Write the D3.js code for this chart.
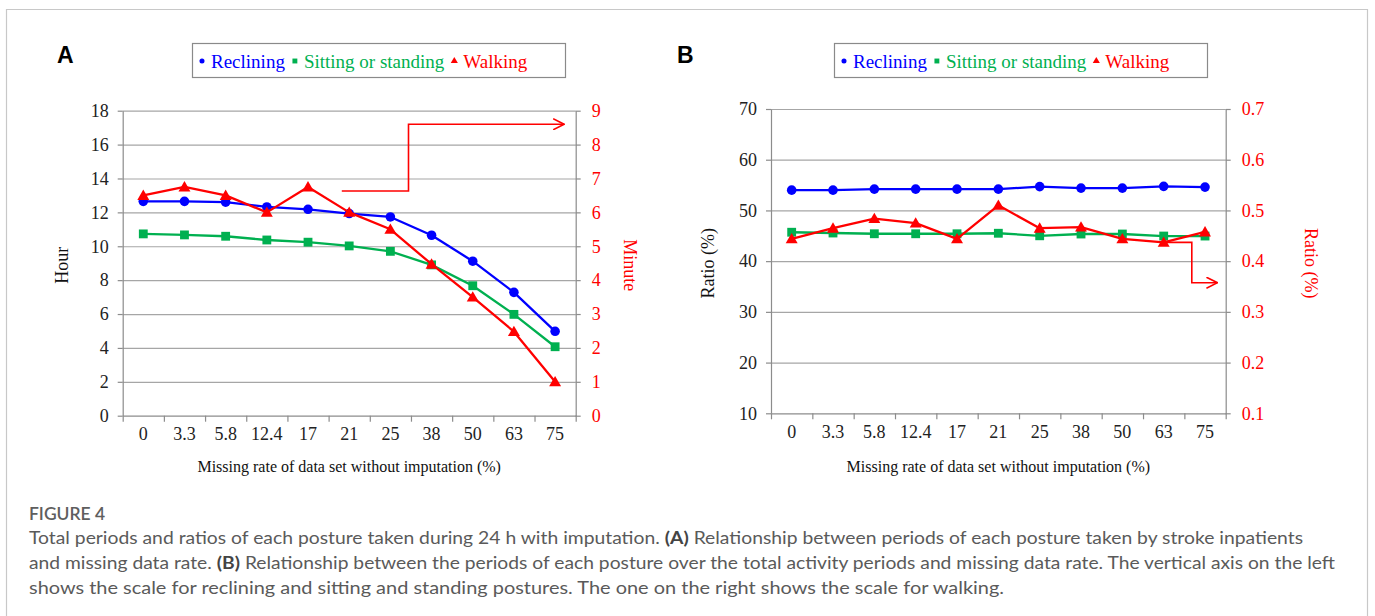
<!DOCTYPE html>
<html>
<head>
<meta charset="utf-8">
<script src="https://cdn.jsdelivr.net/npm/d3@7"></script>
<style>
  html, body { margin: 0; padding: 0; background: #fff; }
  svg { display: block; }
</style>
</head>
<body>
<svg id="chart" width="1375" height="616"></svg>
<script>
// ---------------- DATA ----------------
const categories = ["0", "3.3", "5.8", "12.4", "17", "21", "25", "38", "50", "63", "75"];
const seriesNames = ["Reclining", "Sitting or standing", "Walking"];

// Panel A: hours (reclining, sitting/standing) and minutes (walking)
const hoursReclining = [12.65, 12.65, 12.6, 12.32, 12.18, 11.93, 11.73, 10.65, 9.12, 7.28, 4.98];
const hoursSitting   = [10.73, 10.67, 10.59, 10.37, 10.24, 10.02, 9.7, 8.9, 7.67, 5.98, 4.07];
const minutesWalking = [6.5, 6.75, 6.5, 6.0, 6.75, 6.0, 5.5, 4.47, 3.5, 2.48, 1.0];
const hourTicks   = [0, 2, 4, 6, 8, 10, 12, 14, 16, 18];
const minuteTicks = [0, 1, 2, 3, 4, 5, 6, 7, 8, 9];

// Panel B: ratio (%) for reclining, sitting/standing; ratio for walking
const ratioReclining = [54.0, 54.0, 54.2, 54.2, 54.2, 54.2, 54.7, 54.4, 54.4, 54.75, 54.6];
const ratioSitting   = [45.7, 45.55, 45.4, 45.4, 45.4, 45.5, 45.0, 45.35, 45.35, 44.95, 44.95];
const ratioWalking   = [0.444, 0.465, 0.484, 0.475, 0.444, 0.51, 0.465, 0.467, 0.444, 0.437, 0.4575];
const ratioTicks      = [10, 20, 30, 40, 50, 60, 70];
const ratioRightTicks = [0.1, 0.2, 0.3, 0.4, 0.5, 0.6, 0.7];

// annotation arrows (category index, right-axis value)
const arrowA = [[4.82, 6.63], [6.44, 6.63], [6.44, 8.6], [10.22, 8.6]];
const arrowB = [[9.0, 0.437], [9.68, 0.437], [9.68, 0.3575], [10.3, 0.3575]];

const xTitle = "Missing rate of data set without imputation (%)";
const captionTitle = "FIGURE 4";
const captionLines = [
  [["Total periods and ratios of each posture taken during 24 h with imputation. ", false], ["(A)", true], [" Relationship between periods of each posture taken by stroke inpatients", false]],
  [["and missing data rate. ", false], ["(B)", true], [" Relationship between the periods of each posture over the total activity periods and missing data rate. The vertical axis on the left", false]],
  [["shows the scale for reclining and sitting and standing postures. The one on the right shows the scale for walking.", false]]
];

// ---------------- STYLE ----------------
const COL = { blue: "#0000ff", green: "#00b050", red: "#ff0000" };
const SERIF = "'Liberation Serif', 'Times New Roman', serif";
const gridColor = "#a6a6a6";
const axisColor = "#8c8c8c";

const svg = d3.select("#chart");

// outer frame (left, top, right)
svg.append("path")
  .attr("d", "M6.5,620 L6.5,9.5 L1367.5,9.5 L1367.5,620")
  .attr("fill", "none").attr("stroke", "#c8c8c8").attr("stroke-width", 1.2);

svg.append("defs").append("marker")
  .attr("id", "arrowhead").attr("viewBox", "0 -6 12 12")
  .attr("refX", 11).attr("refY", 0)
  .attr("markerWidth", 12).attr("markerHeight", 12)
  .attr("markerUnits", "userSpaceOnUse").attr("orient", "auto")
  .append("path").attr("d", "M0,-5.5 L11,0 L0,5.5")
  .attr("fill", "none").attr("stroke", COL.red).attr("stroke-width", 1.6);

function drawPanel(cfg) {
  const g = svg.append("g");
  const x = d3.scaleBand().domain(categories).range([cfg.x0, cfg.x1]);
  const xi = d3.scaleLinear().domain([0, categories.length]).range([cfg.x0, cfg.x1]);
  const xc = i => xi(i + 0.5);
  const yL = d3.scaleLinear().domain(cfg.leftDomain).range([cfg.yBottom, cfg.yTop]);
  const yR = d3.scaleLinear().domain(cfg.rightDomain).range([cfg.yBottom, cfg.yTop]);

  // panel letter
  g.append("text").attr("x", cfg.letterX).attr("y", 63)
    .attr("font-family", "'Liberation Sans', Arial, sans-serif")
    .attr("font-weight", "bold").attr("font-size", 23).attr("fill", "#000")
    .text(cfg.letter);

  // gridlines
  g.append("g").attr("transform", `translate(${cfg.x0},0)`)
    .call(d3.axisLeft(yL).tickValues(cfg.leftTicks.slice(1)).tickSize(-(cfg.x1 - cfg.x0)).tickFormat(""))
    .call(s => s.select(".domain").remove())
    .call(s => s.selectAll("line").attr("stroke", gridColor).attr("stroke-width", 1.2));

  // left axis
  g.append("g").attr("transform", `translate(${cfg.x0},0)`)
    .call(d3.axisLeft(yL).tickValues(cfg.leftTicks).tickSize(5).tickPadding(9).tickSizeOuter(0))
    .call(s => s.select(".domain").attr("stroke", axisColor).attr("stroke-width", 1.2))
    .call(s => s.selectAll("line").attr("stroke", axisColor).attr("stroke-width", 1.2))
    .call(s => s.selectAll("text").attr("font-family", SERIF).attr("font-size", 18).attr("fill", "#222"));

  // right axis
  g.append("g").attr("transform", `translate(${cfg.x1},0)`)
    .call(d3.axisRight(yR).tickValues(cfg.rightTicks).tickSize(5).tickPadding(11).tickSizeOuter(0)
      .tickFormat(cfg.rightFormat))
    .call(s => s.select(".domain").attr("stroke", axisColor).attr("stroke-width", 1.2))
    .call(s => s.selectAll("line").attr("stroke", axisColor).attr("stroke-width", 1.2))
    .call(s => s.selectAll("text").attr("font-family", SERIF).attr("font-size", 18).attr("fill", COL.red));

  // bottom axis: boundary ticks
  g.append("g").attr("transform", `translate(0,${cfg.yBottom})`)
    .call(d3.axisBottom(xi).tickValues(d3.range(categories.length + 1)).tickSize(6).tickFormat("").tickSizeOuter(0))
    .call(s => s.select(".domain").attr("stroke", axisColor).attr("stroke-width", 1.2))
    .call(s => s.selectAll("line").attr("stroke", axisColor).attr("stroke-width", 1.2));
  // bottom axis labels
  g.append("g").attr("transform", `translate(0,${cfg.yBottom})`)
    .call(d3.axisBottom(x).tickSize(0).tickPadding(12))
    .call(s => s.select(".domain").remove())
    .call(s => s.selectAll("text").attr("font-family", SERIF).attr("font-size", 18).attr("fill", "#222"));

  // axis titles
  const yMid = (cfg.yTop + cfg.yBottom) / 2;
  g.append("text").attr("transform", `translate(${cfg.leftTitleX},${yMid + 2}) rotate(-90)`)
    .attr("text-anchor", "middle").attr("dominant-baseline", "central")
    .attr("font-family", SERIF).attr("font-size", 18).attr("fill", "#111").text(cfg.leftTitle);
  g.append("text").attr("transform", `translate(${cfg.rightTitleX},${yMid + 2}) rotate(90)`)
    .attr("text-anchor", "middle").attr("dominant-baseline", "central")
    .attr("font-family", SERIF).attr("font-size", 18).attr("fill", COL.red).text(cfg.rightTitle);
  g.append("text").attr("x", (cfg.x0 + cfg.x1) / 2).attr("y", 472)
    .attr("text-anchor", "middle").attr("font-family", SERIF).attr("font-size", 16).attr("fill", "#111")
    .text(xTitle);

  // series
  const series = [
    { name: seriesNames[0], values: cfg.s1, y: yL, color: COL.blue, sym: d3.symbolCircle, size: 72 },
    { name: seriesNames[1], values: cfg.s2, y: yL, color: COL.green, sym: d3.symbolSquare, size: 78 },
    { name: seriesNames[2], values: cfg.s3, y: yR, color: COL.red, sym: d3.symbolTriangle, size: 62 }
  ];
  series.forEach(s => {
    const line = d3.line().x((d, i) => xc(i)).y(d => s.y(d));
    g.append("path").datum(s.values).attr("d", line)
      .attr("fill", "none").attr("stroke", s.color).attr("stroke-width", 2.3).attr("stroke-linejoin", "round");
    g.selectAll(null).data(s.values).join("path")
      .attr("transform", (d, i) => `translate(${xc(i)},${s.y(d) + (s.sym === d3.symbolTriangle ? 1 : 0)})`)
      .attr("d", d3.symbol(s.sym, s.size)).attr("fill", s.color);
  });

  // annotation arrow
  const aLine = d3.line().x(d => xi(d[0] + 0.5)).y(d => yR(d[1])).curve(d3.curveLinear);
  g.append("path").datum(cfg.arrow).attr("d", aLine)
    .attr("fill", "none").attr("stroke", COL.red).attr("stroke-width", 1.6)
    .attr("marker-end", "url(#arrowhead)");

  // legend
  const lg = g.append("g");
  lg.append("rect").attr("x", cfg.legendX + 0.5).attr("y", 43.5).attr("width", 373).attr("height", 34)
    .attr("fill", "#fff").attr("stroke", "#8a8a8a").attr("stroke-width", 1.2);
  let cx = cfg.legendX + 10;
  const ly = 61;
  series.forEach((s, k) => {
    const symSize = k === 0 ? 20 : (k === 1 ? 24 : 22);
    lg.append("path").attr("transform", `translate(${cx},${ly})`)
      .attr("d", d3.symbol(s.sym, symSize)).attr("fill", s.color);
    const t = lg.append("text").attr("x", cx + 9).attr("y", ly + 6.5)
      .attr("font-family", SERIF).attr("font-size", 19).attr("fill", s.color).text(s.name);
    cx += 9 + t.node().getComputedTextLength() + 10;
  });
}

drawPanel({
  letter: "A", letterX: 57, legendX: 192,
  x0: 122.7, x1: 575.7, yTop: 110.7, yBottom: 415.7,
  leftDomain: [0, 18], rightDomain: [0, 9],
  leftTicks: hourTicks, rightTicks: minuteTicks, rightFormat: d3.format("d"),
  leftTitle: "Hour", rightTitle: "Minute", leftTitleX: 62, rightTitleX: 630,
  s1: hoursReclining, s2: hoursSitting, s3: minutesWalking, arrow: arrowA
});
drawPanel({
  letter: "B", letterX: 677, legendX: 834,
  x0: 771, x1: 1225.7, yTop: 109, yBottom: 413.3,
  leftDomain: [10, 70], rightDomain: [0.1, 0.7],
  leftTicks: ratioTicks, rightTicks: ratioRightTicks, rightFormat: d3.format(".1f"),
  leftTitle: "Ratio (%)", rightTitle: "Ratio (%)", leftTitleX: 708, rightTitleX: 1311,
  s1: ratioReclining, s2: ratioSitting, s3: ratioWalking, arrow: arrowB
});

// caption
const CAP_FONT = "Lato, 'Open Sans', 'Noto Sans', sans-serif";
svg.append("text").attr("x", 29).attr("y", 520)
  .attr("font-family", CAP_FONT).attr("font-size", 17.5).attr("font-weight", 600)
  .attr("fill", "#5e5e5e").attr("textLength", 76).attr("lengthAdjust", "spacingAndGlyphs")
  .text(captionTitle);
const lineEnds = [1303, 1335, 1004];
captionLines.forEach((parts, i) => {
  const t = svg.append("text").attr("x", 29).attr("y", 544 + i * 25)
    .attr("font-family", CAP_FONT).attr("font-size", 16.5).attr("fill", "#5a5a5a")
    .attr("textLength", lineEnds[i] - 29).attr("lengthAdjust", "spacingAndGlyphs");
  parts.forEach(([txt, bold]) => {
    t.append("tspan").attr("font-weight", bold ? "bold" : "normal")
      .attr("fill", bold ? "#444" : "#5a5a5a").text(txt);
  });
});
</script>
</body>
</html>
